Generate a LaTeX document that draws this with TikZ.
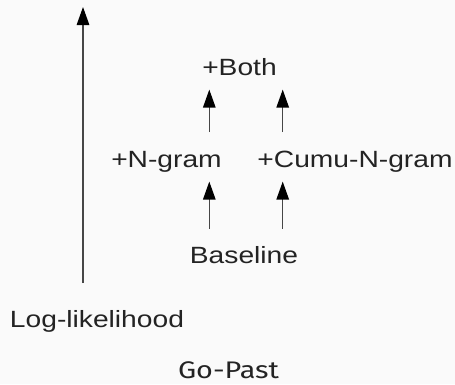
\documentclass[tikz,border=0pt]{standalone}
\usepackage{fontspec}
\setmainfont{Liberation Sans}[FakeStretch=1.2]
\newfontfamily\captionfont{Fira Sans}[FakeStretch=1.2]
\definecolor{paperBg}{RGB}{250,250,250}
\definecolor{lineGray}{RGB}{70,70,70}
\definecolor{inkGray}{RGB}{35,35,35}
\usetikzlibrary{arrows.meta,positioning}

\begin{document}
\begin{tikzpicture}[x=1pt, y=-1pt,
  lbl/.style={inner sep=0pt, text height=17.8pt, text depth=5.9pt,
              text=inkGray, font=\fontsize{23.5}{28}\selectfont},
  arr/.style={-{Triangle[length=18pt,width=12.5pt,color=black]},
              line width=1.3pt, lineGray},
  stagearr/.style={arr, shorten <=17pt, shorten >=8.5pt}
]
  \fill[paperBg] (0,0) rectangle (455,384);
  \useasboundingbox (0,0) rectangle (455,384);

  % model variants
  \node[lbl, anchor=base] (both)  at (239.5,75)  {+Both};
  \node[lbl, anchor=base] (ngram) at (166.5,167) {+N-gram};
  \node[lbl, anchor=base] (cumu)  at (355,167)   {+Cumu-N-gram};
  \node[lbl, anchor=base] (base)  at (244,263.5) {Baseline};

  % axis and caption
  \node[lbl, anchor=base] (loglik) at (97,327) {Log-likelihood};
  \node[lbl, anchor=base, font=\captionfont\fontsize{24}{28}\selectfont]
    (gopast) at (228.5,378) {Go-Past};

  \coordinate (lx)  at (209.3,0);
  \coordinate (rx)  at (282.7,0);
  \coordinate (top) at (83,7);

  \draw[arr, shorten <=26pt] (loglik.north -| top) -- (top);
  \draw[stagearr] (base.north -| lx) -- (ngram.south -| lx);
  \draw[stagearr] (base.north -| rx) -- (cumu.south -| rx);
  \draw[stagearr] (ngram.north -| lx) -- (both.south -| lx);
  \draw[stagearr] (cumu.north -| rx) -- (both.south -| rx);
\end{tikzpicture}
\end{document}
